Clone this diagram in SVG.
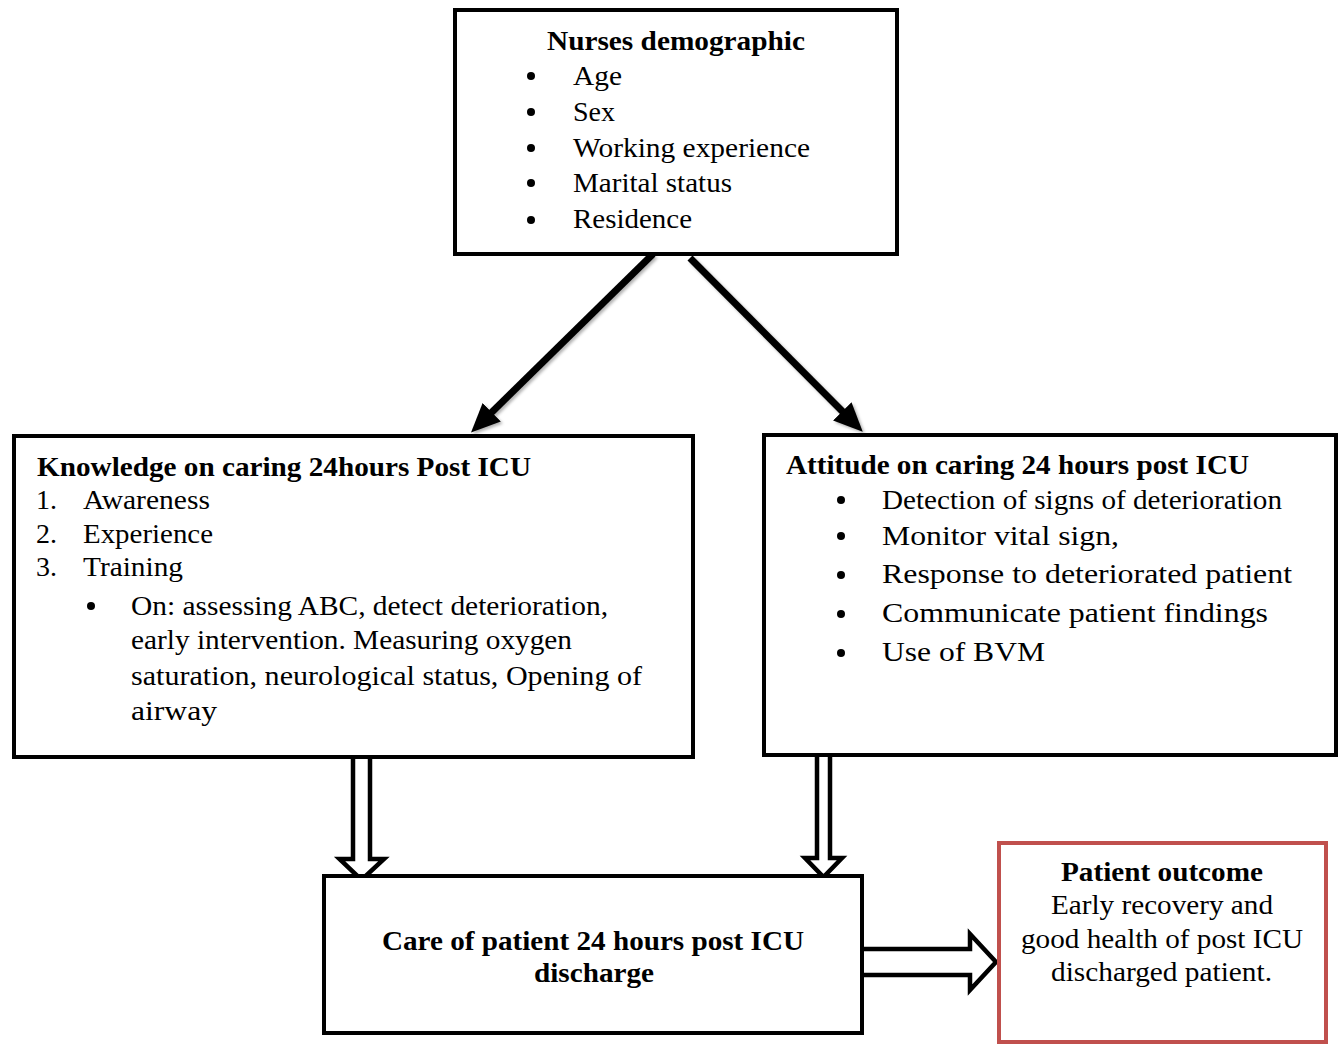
<svg xmlns="http://www.w3.org/2000/svg" width="1341" height="1046" viewBox="0 0 1341 1046">
<defs>
<style>
.box{fill:#fff;stroke:#000;stroke-width:4}
.red{fill:#fff;stroke:#c0504d;stroke-width:4}
text{font-family:'Liberation Serif','Times New Roman',Tinos,Times,serif;font-size:28px;fill:#000}
.b{font-weight:bold}
.dot{fill:#000}
.diag{stroke:#000;stroke-width:7;fill:none}
.hollow{fill:#fff;stroke:#000;stroke-width:4.5;stroke-linejoin:miter}
</style>
<marker id="head" markerUnits="userSpaceOnUse" markerWidth="32" markerHeight="28" refX="1" refY="14" orient="auto">
<path d="M0,1 L29,14 L0,27 z" fill="#000"/>
</marker>
<filter id="sh" x="-20%" y="-20%" width="140%" height="140%">
<feDropShadow dx="2" dy="2" stdDeviation="1.5" flood-color="#000" flood-opacity="0.3"/>
</filter>
</defs>

<g id="connectors">
<line class="diag" x1="653" y1="254" x2="491" y2="413" marker-end="url(#head)" filter="url(#sh)"/>
<line class="diag" x1="690" y1="258" x2="843" y2="412" marker-end="url(#head)" filter="url(#sh)"/>
<path class="hollow" d="M353,757 L353,859 L339.5,859 L361.5,880 L384,859 L370,859 L370,757"/>
<path class="hollow" d="M817,757 L817,858 L805,858 L823.5,877 L842,858 L830,858 L830,757"/>
<path class="hollow" d="M864,949 L970,949 L970,934 L996,962 L970,990 L970,975 L864,975"/>
</g>

<g id="nurses-demographic" font-family="Liberation Serif, serif">
<rect class="box" x="455" y="10" width="442" height="244"/>
<text class="b" x="547" y="50" textLength="258" lengthAdjust="spacingAndGlyphs">Nurses demographic</text>
<circle class="dot" cx="531" cy="76" r="4"/>
<circle class="dot" cx="531" cy="112" r="4"/>
<circle class="dot" cx="531" cy="148" r="4"/>
<circle class="dot" cx="531" cy="183" r="4"/>
<circle class="dot" cx="531" cy="220" r="4"/>
<text x="573" y="85" textLength="49" lengthAdjust="spacingAndGlyphs">Age</text>
<text x="573" y="121" textLength="42" lengthAdjust="spacingAndGlyphs">Sex</text>
<text x="573" y="157" textLength="237" lengthAdjust="spacingAndGlyphs">Working experience</text>
<text x="573" y="192" textLength="159" lengthAdjust="spacingAndGlyphs">Marital status</text>
<text x="573" y="228" textLength="119" lengthAdjust="spacingAndGlyphs">Residence</text>
</g>

<g id="knowledge">
<rect class="box" x="14" y="436" width="679" height="321"/>
<text class="b" x="37" y="476" textLength="494" lengthAdjust="spacingAndGlyphs">Knowledge on caring 24hours Post ICU</text>
<text x="36" y="509">1.</text>
<text x="83" y="509" textLength="127" lengthAdjust="spacingAndGlyphs">Awareness</text>
<text x="36" y="543">2.</text>
<text x="83" y="543" textLength="130" lengthAdjust="spacingAndGlyphs">Experience</text>
<text x="36" y="576">3.</text>
<text x="83" y="576" textLength="100" lengthAdjust="spacingAndGlyphs">Training</text>
<circle class="dot" cx="91" cy="606" r="4"/>
<text x="131" y="615" textLength="477" lengthAdjust="spacingAndGlyphs">On: assessing ABC, detect deterioration,</text>
<text x="131" y="649" textLength="441" lengthAdjust="spacingAndGlyphs">early intervention. Measuring oxygen</text>
<text x="131" y="685" textLength="511" lengthAdjust="spacingAndGlyphs">saturation, neurological status, Opening of</text>
<text x="131" y="720" textLength="86" lengthAdjust="spacingAndGlyphs">airway</text>
</g>

<g id="attitude">
<rect class="box" x="764" y="435" width="572" height="320"/>
<text class="b" x="786" y="474" textLength="463" lengthAdjust="spacingAndGlyphs">Attitude on caring 24 hours post ICU</text>
<circle class="dot" cx="841" cy="500" r="4"/>
<circle class="dot" cx="841" cy="536" r="4"/>
<circle class="dot" cx="841" cy="575" r="4"/>
<circle class="dot" cx="841" cy="614" r="4"/>
<circle class="dot" cx="841" cy="653" r="4"/>
<text x="882" y="509" textLength="400" lengthAdjust="spacingAndGlyphs">Detection of signs of deterioration</text>
<text x="882" y="545" textLength="237" lengthAdjust="spacingAndGlyphs">Monitor vital sign,</text>
<text x="882" y="583" textLength="410" lengthAdjust="spacingAndGlyphs">Response to deteriorated patient</text>
<text x="882" y="622" textLength="386" lengthAdjust="spacingAndGlyphs">Communicate patient findings</text>
<text x="882" y="661" textLength="163" lengthAdjust="spacingAndGlyphs">Use of BVM</text>
</g>

<g id="care">
<rect class="box" x="324" y="876" width="538" height="157"/>
<text class="b" x="382" y="950" textLength="422" lengthAdjust="spacingAndGlyphs">Care of patient 24 hours post ICU</text>
<text class="b" x="534" y="982" textLength="120" lengthAdjust="spacingAndGlyphs">discharge</text>
</g>

<g id="patient-outcome">
<rect class="red" x="999" y="843" width="327" height="199"/>
<text class="b" x="1061" y="881" textLength="202" lengthAdjust="spacingAndGlyphs">Patient outcome</text>
<text x="1051" y="914" textLength="222" lengthAdjust="spacingAndGlyphs">Early recovery and</text>
<text x="1021" y="948" textLength="282" lengthAdjust="spacingAndGlyphs">good health of post ICU</text>
<text x="1051" y="981" textLength="221" lengthAdjust="spacingAndGlyphs">discharged patient.</text>
</g>
</svg>
